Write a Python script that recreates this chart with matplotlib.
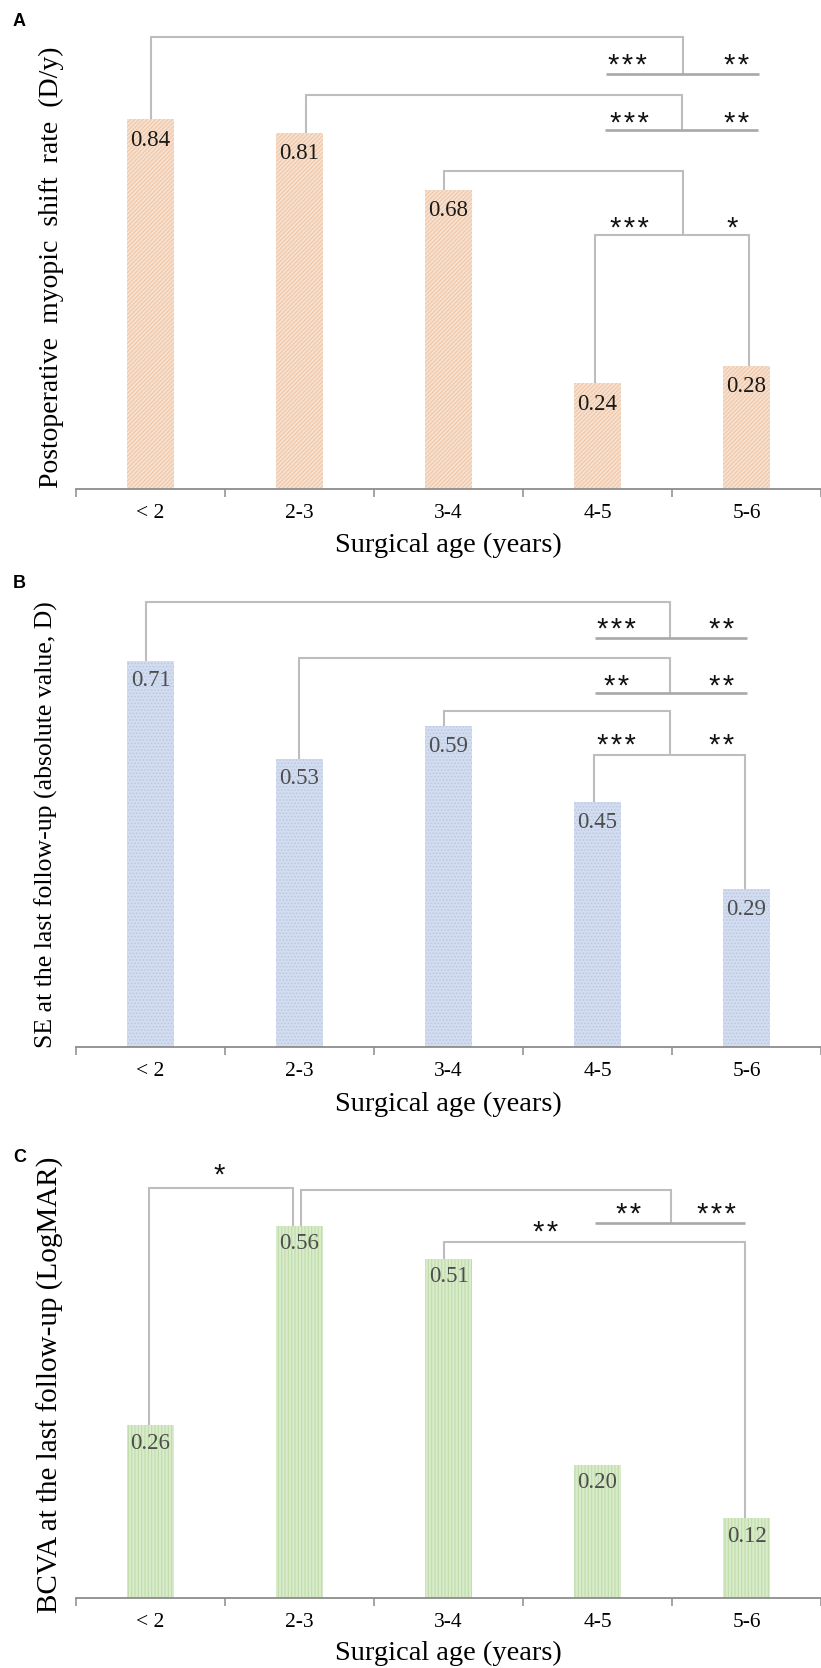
import matplotlib
matplotlib.use("Agg")
import matplotlib.pyplot as plt
import numpy as np

plt.rcParams['font.family'] = ['Liberation Serif', 'DejaVu Serif']
plt.rcParams['hatch.linewidth'] = 0.8

# data
categories = ['< 2', '2-3', '3-4', '4-5', '5-6']
shift_rate = [0.84, 0.81, 0.68, 0.24, 0.28]
se_last = [0.71, 0.53, 0.59, 0.45, 0.29]
bcva_last = [0.26, 0.56, 0.51, 0.20, 0.12]

stars_a = [('***', '**'), ('***', '**'), ('***', '*')]
stars_b = [('***', '**'), ('**', '**'), ('***', '**')]
stars_c = ['*', ('**', '***'), '**']

W, H = 821, 1668
fig = plt.figure(figsize=(W / 100, H / 100), dpi=100)

LINE = '#BDBDBD'
ULINE = '#A8A8A8'
x = np.arange(len(categories))


def make_axes(top_px, base_px, px_per_unit):
    left = 76
    ax = fig.add_axes([left / W, (H - base_px) / H, (W - left) / W, (base_px - top_px) / H])
    ax.set_xlim(-0.5, (W - 151) / 150.5)
    ax.set_ylim(0, (base_px - top_px) / px_per_unit)
    for s in ['left', 'right', 'top']:
        ax.spines[s].set_visible(False)
    ax.spines['bottom'].set_color('#8C8C8C')
    ax.spines['bottom'].set_linewidth(1.3)
    ax.set_yticks([])
    ax.set_xticks(np.arange(-0.5, 4.6, 1))
    ax.set_xticklabels([])
    ax.tick_params(axis='x', which='major', length=6, width=1.1, color='#8C8C8C')
    ax.set_xticks(x, minor=True)
    ax.set_xticklabels(categories, minor=True, fontsize=15.5)
    ax.tick_params(axis='x', which='minor', length=0, pad=11)
    return ax


def draw_bars(ax, vals, face, edge, hatch, txtcolor, off):
    ax.bar(x, vals, width=0.31, color=face, edgecolor=edge, hatch=hatch, linewidth=0)
    for xi, v in zip(x, vals):
        ax.annotate(f'{v:.2f}', (xi, v), xytext=(0, -off), textcoords='offset pixels',
                    ha='center', va='center', fontsize=16.5, color=txtcolor)


def path(ax, xs, ys, color=LINE, lw=1.5):
    ax.plot(xs, ys, color=color, lw=lw, solid_capstyle='butt', solid_joinstyle='miter')


def star(ax, xx, yy, s):
    # asterisk glyph sits high, so anchor on the baseline and drop it
    s = '\u200a'.join(s)
    ax.annotate(s, (xx, yy), xytext=(0, -12), textcoords='offset pixels',
                ha='center', va='baseline', fontsize=21, color='#111111',
                family=['Liberation Sans', 'DejaVu Sans'])


# ---------------- A ----------------
ax = make_axes(20, 489, 440)
draw_bars(ax, shift_rate, '#F8E1CF', '#EEC7A9', '////////', '#1A1A1A', 21)
# bracket 1 (<2 vs 4-5 / 5-6)
path(ax, [0, 0, 3.575, 3.575], [shift_rate[0], 1.027, 1.027, 0.943])
path(ax, [3.056, 4.086], [0.943, 0.943], ULINE, 1.9)
star(ax, 3.20, 0.970, stars_a[0][0]); star(ax, 3.93, 0.970, stars_a[0][1])
# bracket 2 (2-3)
path(ax, [1.043, 1.043, 3.568, 3.568], [shift_rate[1], 0.895, 0.895, 0.816])
path(ax, [3.05, 4.08], [0.816, 0.816], ULINE, 1.9)
star(ax, 3.216, 0.839, stars_a[1][0]); star(ax, 3.934, 0.839, stars_a[1][1])
# bracket 3 (3-4)
path(ax, [1.973, 1.973, 3.575, 3.575], [shift_rate[2], 0.723, 0.723, 0.577])
path(ax, [2.983, 2.983, 4.02, 4.02], [shift_rate[3], 0.577, 0.577, shift_rate[4]])
star(ax, 3.216, 0.600, stars_a[2][0]); star(ax, 3.907, 0.600, stars_a[2][1])
ax.set_xlabel('Surgical age (years)', fontsize=20.5, va='center')
ax.xaxis.set_label_coords(0.5, -56 / 469)
ax.set_ylabel('Postoperative  myopic  shift  rate  (D/y)', fontsize=20, va='center')
ax.yaxis.set_label_coords((51 - 76) / 745, (489 - 267) / 469)

# ---------------- B ----------------
ax = make_axes(590, 1047, 544)
draw_bars(ax, se_last, '#D3DDEF', '#B9C9E4', '.....', '#4D4D4D', 20)
path(ax, [-0.027, -0.027, 3.488, 3.488], [se_last[0], 0.818, 0.818, 0.752])
path(ax, [2.983, 4.0], [0.752, 0.752], ULINE, 1.9)
star(ax, 3.13, 0.774, stars_b[0][0]); star(ax, 3.834, 0.774, stars_b[0][1])
path(ax, [0.997, 0.997, 3.488, 3.488], [se_last[1], 0.715, 0.715, 0.651])
path(ax, [2.983, 4.0], [0.651, 0.651], ULINE, 1.9)
star(ax, 3.13, 0.669, stars_b[1][0]); star(ax, 3.834, 0.669, stars_b[1][1])
path(ax, [1.967, 1.967, 3.488, 3.488], [se_last[2], 0.618, 0.618, 0.537])
path(ax, [2.977, 2.977, 3.993, 3.993], [se_last[3], 0.537, 0.537, se_last[4]])
star(ax, 3.13, 0.561, stars_b[2][0]); star(ax, 3.834, 0.561, stars_b[2][1])
ax.set_xlabel('Surgical age (years)', fontsize=20.5, va='center')
ax.xaxis.set_label_coords(0.5, -57 / 457)
ax.set_ylabel('SE at the last follow-up (absolute value, D)', fontsize=18.5, va='center')
ax.yaxis.set_label_coords((46 - 76) / 745, (1047 - 825) / 457)

# ---------------- C ----------------
ax = make_axes(1160, 1598, 665)
draw_bars(ax, bcva_last, '#D8EBCA', '#BFDCA8', '|||||', '#4D4D4D', 18)
path(ax, [-0.013, -0.013, 0.957, 0.957], [bcva_last[0], 0.617, 0.617, bcva_last[1]])
star(ax, 0.458, 0.641, stars_c[0])
path(ax, [1.01, 1.01, 3.495, 3.495], [bcva_last[1], 0.614, 0.614, 0.564])
path(ax, [2.983, 3.993], [0.564, 0.564], ULINE, 1.9)
star(ax, 3.209, 0.582, stars_c[1][0]); star(ax, 3.80, 0.582, stars_c[1][1])
path(ax, [1.973, 1.973, 3.993, 3.993], [bcva_last[2], 0.535, 0.535, bcva_last[4]])
star(ax, 2.651, 0.555, stars_c[2])
ax.set_xlabel('Surgical age (years)', fontsize=20.5, va='center')
ax.xaxis.set_label_coords(0.5, -55 / 438)
ax.set_ylabel('BCVA at the last follow-up (LogMAR)', fontsize=21, va='center')
ax.yaxis.set_label_coords((50 - 76) / 745, (1598 - 1385) / 438)

# panel letters
for lab, ypx in [('A', 22), ('B', 583), ('C', 1157)]:
    fig.text(13 / W, 1 - ypx / H, lab, ha='left', va='center', fontsize=13,
             fontweight='bold', family='Liberation Sans')

fig.savefig('out.png', dpi=100)
